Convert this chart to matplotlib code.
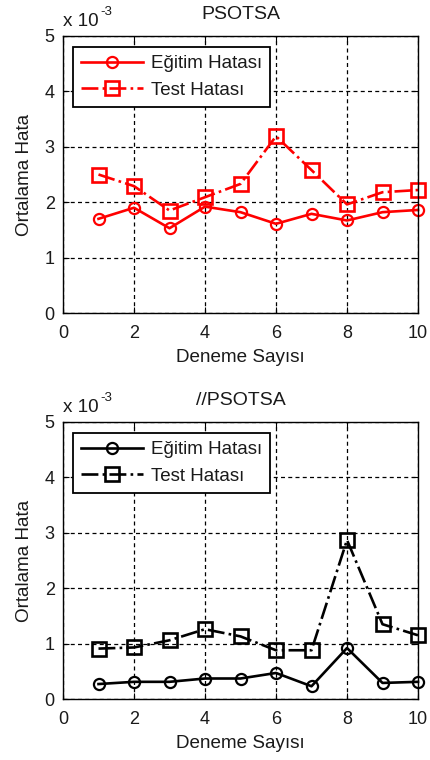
import matplotlib
matplotlib.use("Agg")
import matplotlib.pyplot as plt
from matplotlib.ticker import FuncFormatter, MultipleLocator

plt.rcParams['font.family'] = ['Liberation Sans', 'DejaVu Sans']

trials = [1, 2, 3, 4, 5, 6, 7, 8, 9, 10]

# PSOTSA errors
psotsa_train = [1.70e-3, 1.90e-3, 1.53e-3, 1.92e-3, 1.82e-3, 1.61e-3, 1.79e-3, 1.67e-3, 1.82e-3, 1.86e-3]
psotsa_test = [2.50e-3, 2.29e-3, 1.85e-3, 2.09e-3, 2.33e-3, 3.19e-3, 2.58e-3, 1.96e-3, 2.18e-3, 2.22e-3]

# //PSOTSA errors
par_train = [0.27e-3, 0.31e-3, 0.31e-3, 0.37e-3, 0.37e-3, 0.47e-3, 0.23e-3, 0.92e-3, 0.29e-3, 0.31e-3]
par_test = [0.91e-3, 0.93e-3, 1.06e-3, 1.26e-3, 1.13e-3, 0.88e-3, 0.88e-3, 2.87e-3, 1.35e-3, 1.15e-3]

titles = ["PSOTSA", "//PSOTSA"]
colors = ["#ff0000", "#000000"]
legend_labels = ["Eğitim Hatası", "Test Hatası"]
xlabel = "Deneme Sayısı"
ylabel = "Ortalama Hata"
scale = 1e-3

fig = plt.figure(figsize=(4.3, 7.6), dpi=100)
W, H = 430, 760
boxes = [(63, 36, 418, 313), (63, 422, 418, 699)]
series = [(psotsa_train, psotsa_test), (par_train, par_test)]

fs_tick = 13
fs_lab = 13.6
fs_title = 14
fs_leg = 13.5
txt = "#1a1a1a"

for (l, t, r, b), (tr, te), title, col in zip(boxes, series, titles, colors):
    ax = fig.add_axes([l / W, 1 - b / H, (r - l) / W, (b - t) / H])
    ax.plot(trials, tr, '-', color=col, lw=1.9, marker='o', ms=8,
            mfc='none', mec=col, mew=1.6, label=legend_labels[0], clip_on=False)
    ax.plot(trials, te, '-.', color=col, lw=1.9, marker='s', ms=9.5,
            mfc='none', mec=col, mew=1.9, label=legend_labels[1], clip_on=False)
    ax.set_xlim(0, 10)
    ax.set_ylim(0, 5 * scale)
    ax.xaxis.set_major_locator(MultipleLocator(2))
    ax.yaxis.set_major_locator(MultipleLocator(scale))
    ax.yaxis.set_major_formatter(FuncFormatter(lambda v, p: f"{v / scale:.0f}"))
    ax.grid(True, color='black', linestyle=(0, (3.2, 2.6)), lw=0.9)
    ax.tick_params(direction='in', top=True, right=True, length=4,
                   labelsize=fs_tick, labelcolor=txt)
    ax.tick_params(axis='x', pad=9)
    ax.tick_params(axis='y', pad=6)
    for s in ax.spines.values():
        s.set_linewidth(1.0)
    ax.set_title(title, fontsize=fs_title, color=txt, pad=12)
    ax.set_xlabel(xlabel, fontsize=fs_lab, color=txt, labelpad=5)
    ax.set_ylabel(ylabel, fontsize=fs_lab, color=txt, labelpad=8)
    # exponent multiplier above the y axis
    ax.text(0.0, 1.036, "x 10", transform=ax.transAxes, fontsize=fs_lab,
            color=txt, ha='left', va='baseline')
    ax.text(0.105, 1.075, "-3", transform=ax.transAxes, fontsize=9.5,
            color=txt, ha='left', va='baseline')
    leg = ax.legend(loc='upper left', bbox_to_anchor=(0.028, 0.962),
                    fontsize=fs_leg, frameon=True, fancybox=False, framealpha=1,
                    edgecolor='black', handlelength=3.3, borderpad=0.45,
                    labelspacing=0.5, handletextpad=0.4, borderaxespad=0)
    leg.get_frame().set_linewidth(1.3)
    for tx in leg.get_texts():
        tx.set_color(txt)

fig.savefig("out.png", dpi=100)
